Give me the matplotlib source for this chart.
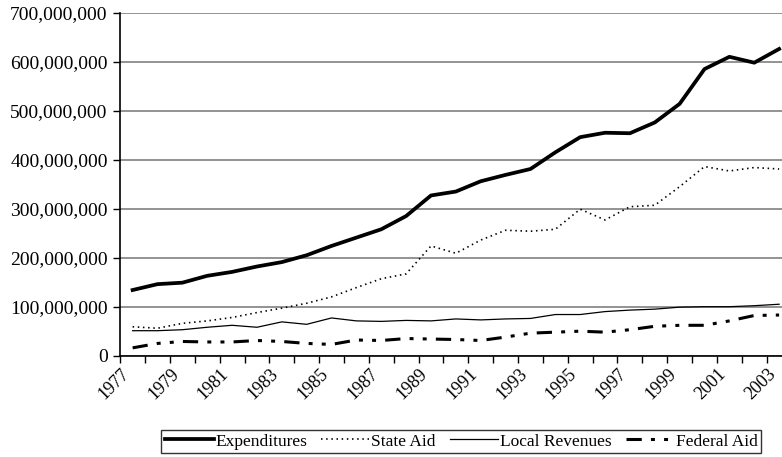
import matplotlib
matplotlib.use('Agg')
import matplotlib.pyplot as plt
from matplotlib.ticker import FuncFormatter, FixedLocator
import numpy as np

years = list(range(1977, 2004))

# values in millions
expenditures = [134, 146, 149, 163, 171, 182, 191, 205, 224, 241, 258, 285, 327,
                335, 356, 369, 381, 415, 446, 455, 454, 476, 514, 585, 610, 598, 626]
state_aid = [59, 56, 66, 71, 78, 88, 97, 107, 120, 139, 157, 167, 224,
             209, 236, 256, 254, 258, 299, 277, 304, 307, 345, 386, 377, 384, 381]
local_revenues = [51, 51, 53, 58, 62, 58, 69, 64, 77, 71, 70, 72, 71,
                  75, 73, 75, 76, 84, 84, 90, 93, 95, 99, 100, 100, 102, 105]
federal_aid = [16, 25, 29, 28, 28, 31, 29, 25, 23, 32, 31, 35, 34,
               33, 31, 38, 46, 48, 50, 48, 53, 60, 62, 62, 71, 82, 83]

plt.rcParams['font.family'] = ['Liberation Serif', 'DejaVu Serif']

fig = plt.figure(figsize=(7.82, 4.57), dpi=100)
ax = fig.add_axes([0.1537, 0.2217, 0.8585, 0.7505])

x = np.arange(len(years))
scale = 1e6
ax.plot(x, np.array(expenditures) * scale, color='black', lw=2.7,
        solid_joinstyle='round', label='Expenditures')
ax.plot(x, np.array(state_aid) * scale, color='black', lw=1.2,
        linestyle=(0, (0.9, 2.2)), label='State Aid')
ax.plot(x, np.array(local_revenues) * scale, color='black', lw=0.9,
        label='Local Revenues')
ax.plot(x, np.array(federal_aid) * scale, color='black', lw=2.2,
        linestyle=(0, (5, 3, 1.3, 3, 1.3, 3)), label='Federal Aid')

ax.set_xlim(-0.5, len(years) - 0.5)
ax.set_ylim(0, 700e6)
ax.set_yticks(np.arange(0, 700e6 + 1, 100e6))
ax.yaxis.set_major_formatter(FuncFormatter(lambda v, p: f'{int(v):,}'))
ax.yaxis.grid(True, color='#808080', lw=1.2)
ax.set_axisbelow(True)

# category ticks between categories, labels on every other year
ax.xaxis.set_major_locator(FixedLocator(np.arange(-0.5, len(years), 1.0)))
ax.set_xticklabels([])
ax.set_xticks(x[::2], minor=True)
ax.set_xticklabels([str(y) for y in years[::2]], minor=True, rotation=45,
                   ha='right', fontsize=13)
ax.tick_params(axis='x', which='major', direction='out', length=5, width=1)
ax.tick_params(axis='x', which='minor', length=0, pad=7)
ax.tick_params(axis='y', direction='out', length=5, width=1, labelsize=14, pad=4)

for s in ['top', 'right']:
    ax.spines[s].set_visible(False)
ax.spines['left'].set_linewidth(1.2)
ax.spines['bottom'].set_linewidth(1.2)

leg = fig.legend(loc='center', bbox_to_anchor=(0.59, 0.034), ncol=4,
                 frameon=True, fancybox=False, edgecolor='black',
                 fontsize=12.5, handlelength=2.8, handletextpad=0.1,
                 columnspacing=0.8, borderpad=0.2, borderaxespad=0)
leg.get_frame().set_linewidth(1.0)

fig.savefig('out.png', dpi=100)
